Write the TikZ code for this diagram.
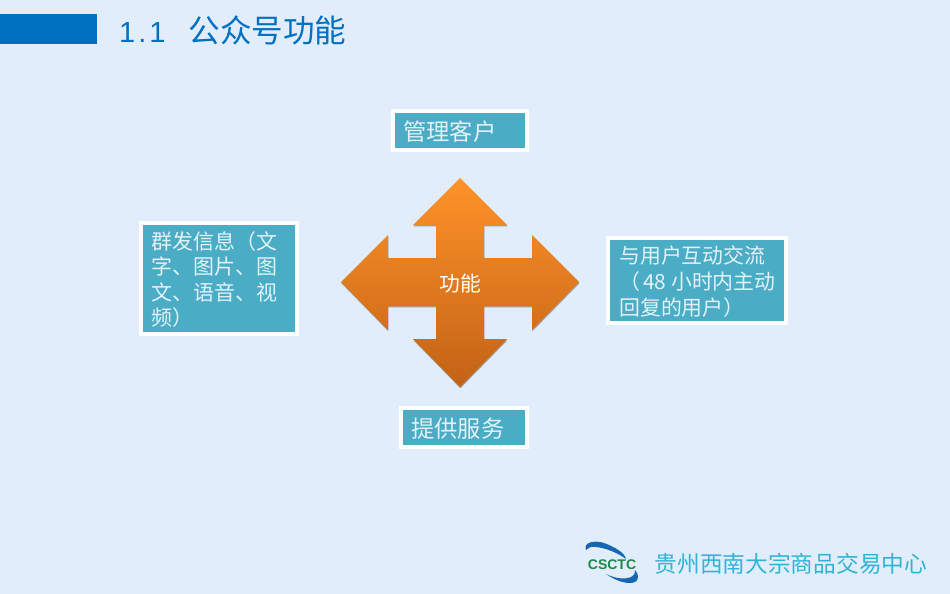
\documentclass[tikz,border=0pt]{standalone}
\usepackage{fontspec}
\setmainfont{Liberation Sans}
\newfontfamily\cjk{Noto Sans CJK SC}
\definecolor{bgblue}{HTML}{E1EDFB}
\definecolor{titleblue}{HTML}{0070C0}
\definecolor{aqua}{HTML}{4BACC6}
\definecolor{boxtext}{HTML}{E2F2F7}
\definecolor{foot}{HTML}{2FB4D6}
\definecolor{logogreen}{HTML}{1F8A45}
\definecolor{logoblue}{HTML}{1467B0}
\definecolor{crosstop}{RGB}{255,147,41}
\definecolor{crossbottom}{RGB}{194,98,22}
\tikzset{
  tagbox/.style={draw=white,line width=4pt,fill=aqua},
  boxlabel/.style={text=boxtext,inner sep=0pt,align=left,anchor=west},
}
\begin{document}
\begin{tikzpicture}[x=1pt,y=-1pt]
\path[use as bounding box,fill=bgblue] (0,0) rectangle (950,594);
\fill[titleblue] (0,14) rectangle (96.5,44);
\node[anchor=west,inner sep=0pt,text=titleblue,font=\fontsize{29}{32}\selectfont] (title) at (119,30.5)
  {1\hspace{3pt}.\hspace{3pt}1\hspace{23pt}{\cjk\fontsize{31.6}{34}\selectfont 公众号功能}};
% cross arrow
\def\crosspath{(460,178) -- (507,225) -- (484,225) -- (484,258) -- (532,258) -- (532,235) -- (579,282)
  -- (532,330) -- (532,306) -- (484,306) -- (484,339) -- (507,339) -- (460,387) -- (413,339)
  -- (436,339) -- (436,306) -- (388,306) -- (388,330) -- (341,282) -- (388,235) -- (388,258)
  -- (436,258) -- (436,225) -- (413,225) -- cycle}
\fill[gray!75,shift={(0.4pt,-1.3pt)}] \crosspath;
\shade[top color=crosstop,bottom color=crossbottom] \crosspath;
\node[inner sep=0pt,text=white,font=\cjk\fontsize{20.8}{24}\selectfont] (center) at (460,283.5) {功能};
% boxes
\path[tagbox] (393,111) rectangle (527,150);
\node[boxlabel,font=\cjk\fontsize{23.3}{27}\selectfont] (manage) at (403,132) {管理客户};
\path[tagbox] (401,408) rectangle (527,447);
\node[boxlabel,font=\cjk\fontsize{23.3}{27}\selectfont] (serve) at (411,428.5) {提供服务};
\path[tagbox] (141,223) rectangle (297,334);
\node[boxlabel,font=\cjk\fontsize{21}{25.6}\selectfont] (mass) at (151,279.5)
  {群发信息（文\\字、图片、图\\文、语音、视\\频）};
\path[tagbox] (608,238) rectangle (786,323);
\node[boxlabel,font=\cjk\fontsize{20.9}{26}\selectfont] (interact) at (619,282)
  {与用户互动交流\\（\hspace{-1.5pt} 48 小时内主动\\回复的用户）};
% logo
\fill[logoblue] (586,550) .. controls (583,542) and (595,540) .. (604,543)
  .. controls (615,547) and (625,553) .. (626,559) .. controls (618,553) and (606,548) .. (596,547)
  .. controls (591,546) and (588,548) .. (586,550) -- cycle;
\fill[logoblue] (606,574) .. controls (614,578) and (624,580) .. (631,577)
  .. controls (634,575) and (636,573) .. (635,570) .. controls (639,574) and (639,580) .. (635,582)
  .. controls (628,585) and (616,581) .. (606,574) -- cycle;
\node[inner sep=0pt,text=logogreen,font=\bfseries\fontsize{14}{16}\selectfont] (logo) at (612,564.5) {CSCTC};
\node[anchor=west,inner sep=0pt,text=foot,font=\cjk\fontsize{22.7}{26}\selectfont] (footer) at (654.5,564) {贵州西南大宗商品交易中心};
\end{tikzpicture}
\end{document}
